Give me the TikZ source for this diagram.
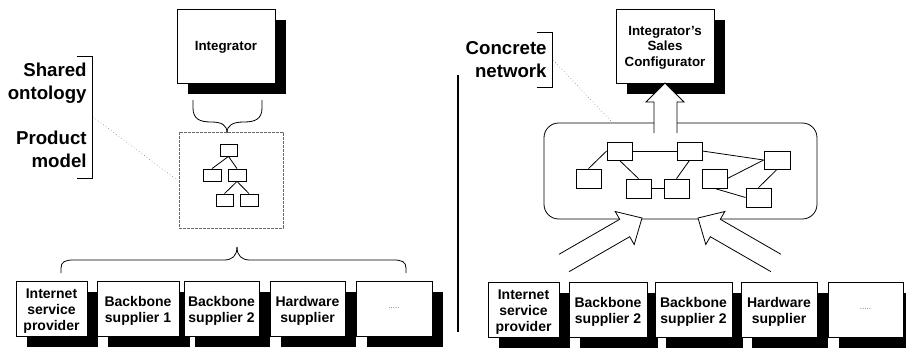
\documentclass[tikz,border=0pt]{standalone}
\usepackage{fontspec}
\setmainfont{Liberation Sans}
\usetikzlibrary{fit,shadows}
\begin{document}
\begin{tikzpicture}[x=0.75pt,y=-0.75pt, line width=0.6pt,
  sbox/.style={draw, fill=white, inner sep=0pt,
    general shadow={fill=black, shadow xshift=8.25pt, shadow yshift=-8.25pt}},
  boxtext/.style={align=center, inner sep=0pt, yshift=-1.8pt, font=\bfseries\fontsize{10.5}{11.8}\selectfont},
  toptext/.style={align=center, inner sep=0pt, yshift=-1.2pt, font=\bfseries\fontsize{10}{11.6}\selectfont},
  mini/.style={draw, fill=white, inner sep=0pt},
  biglabel/.style={align=right, anchor=east, inner sep=0pt, font=\bfseries\fontsize{14}{17.25}\selectfont},
  dots/.style={font=\fontsize{6}{7}\selectfont, text=black!60},
  thin dotted/.style={draw=black!60, dotted, line width=0.4pt}]
\useasboundingbox (0,0) rectangle (906,347);
\clip (0,0) rectangle (906,347);

% ===== Left half =====
\node[sbox, fit={(177,9) (275,83)}] (integ) {};
\node[toptext] (integt) at (integ.center) {Integrator};

% brace under integrator
\draw (193,100) -- (193,108) .. controls (193,119) and (200,122) .. (211,122)
      .. controls (222,122) and (227,125) .. (227,133);
\draw (262,100) -- (262,108) .. controls (262,119) and (255,122) .. (244,122)
      .. controls (233,122) and (227,125) .. (227,133);

% dashed product model box
\node[draw=black!60, dashed, dash pattern=on 2pt off 1pt, line width=0.4pt, inner sep=0pt, fit={(179,132) (283,228)}] (pm) {};
\node[mini, fit={(220,144) (237,156)}] (t0) {};
\node[mini, fit={(203,169) (221,181)}] (t1) {};
\node[mini, fit={(228,169) (246,181)}] (t2) {};
\node[mini, fit={(216,194) (233,206)}] (t3) {};
\node[mini, fit={(240,194) (258,206)}] (t4) {};
\draw (t0.south) -- (t1.north);
\draw (t0.south) -- (t2.north);
\draw (t2.south) -- (t3.north);
\draw (t2.south) -- (t4.north);

% labels
\node[biglabel] (shared) at (87,83.5) {Shared\\ontology};
\node[biglabel] (prod) at (87,149.5) {Product\\model};
\draw (77,56) -- (92,56) -- (92,178) -- (77,178);
\coordinate (lbm) at (93,117);
\coordinate (pmc) at (177,180);
\draw[thin dotted] (lbm) -- (pmc);

% bottom brace
\draw (61,273) -- (61,268) .. controls (61,262) and (65,260) .. (73,260)
      -- (224,260) .. controls (232,260) and (237,256) .. (237,247);
\draw (406,273) -- (406,268) .. controls (406,262) and (402,260) .. (394,260)
      -- (250,260) .. controls (242,260) and (237,256) .. (237,247);

% bottom boxes left
\node[sbox, fit={(16,281) (87,336)}] (l1) {};
\node[boxtext] at (l1.center) {Internet\\service\\provider};
\node[sbox, fit={(97,281) (179,336)}] (l2) {};
\node[boxtext] at (l2.center) {Backbone\\supplier 1};
\node[sbox, fit={(184,281) (259,336)}] (l3) {};
\node[boxtext] at (l3.center) {Backbone\\supplier 2};
\node[sbox, fit={(270,281) (345,336)}] (l4) {};
\node[boxtext] at (l4.center) {Hardware\\supplier};
\node[sbox, fit={(356,281) (432,336)}] (l5) {};
\node[dots] at (l5.center) {.....};

% divider
\draw[line width=1.6pt] (458,75) -- (458,332);

% ===== Right half =====
\node[sbox, fit={(616,9) (714,83)}] (isc) {};
\node[toptext] at (isc.center) {Integrator's\\Sales\\Configurator};

\node[biglabel] (cn) at (547,59.5) {Concrete\\network};
\draw (537,32) -- (552,32) -- (552,87) -- (537,87);

\node[draw, rounded corners=11pt, inner sep=0pt, fit={(544,123) (817,219)}] (net) {};
\coordinate (rbm) at (553,60);
\coordinate (netc) at (612,122);
\draw[thin dotted] (rbm) -- (netc);

% big up arrow
\fill[white] (654,133) -- (654,102) -- (646,102) -- (665,83) -- (684,102) -- (677,102) -- (677,133) -- cycle;
\draw[line join=miter] (654,133) -- (654,102) -- (646,102) -- (665,83) -- (684,102) -- (677,102) -- (677,133);

% network nodes
\node[mini, fit={(607,142) (632,160)}] (A) {};
\node[mini, fit={(677,142) (702,160)}] (B) {};
\node[mini, fit={(576,169) (601,188)}] (C) {};
\node[mini, fit={(626,179) (651,198)}] (D) {};
\node[mini, fit={(664,179) (689,198)}] (E) {};
\node[mini, fit={(702,169) (727,188)}] (F) {};
\node[mini, fit={(764,151) (790,169)}] (G) {};
\node[mini, fit={(746,188) (771,207)}] (H) {};
\draw (A.east) -- (B.west);
\draw (C.north) -- (A.west);
\draw (A.south) -- (D.north);
\draw (D.east) -- (E.west);
\draw (E.north) -- (B.south);
\draw (B.east) -- (G.west);
\draw (F.east) -- (G.west);
\draw (F.south) -- (H.west);
\draw (G.south) -- (H.north);

% hollow arrows into the network
\fill[white] (559,254.3) -- (619.7,219.3) -- (615.2,211.5) -- (642,218) -- (634.2,244.5) -- (629.7,236.7) -- (569,271.7) -- cycle;
\draw[line join=miter] (559,254.3) -- (619.7,219.3) -- (615.2,211.5) -- (642,218) -- (634.2,244.5) -- (629.7,236.7) -- (569,271.7);
\fill[white] (781,254.3) -- (720.3,219.3) -- (724.8,211.5) -- (698,218) -- (705.8,244.5) -- (710.3,236.7) -- (771,271.7) -- cycle;
\draw[line join=miter] (781,254.3) -- (720.3,219.3) -- (724.8,211.5) -- (698,218) -- (705.8,244.5) -- (710.3,236.7) -- (771,271.7);

% bottom boxes right
\node[sbox, fit={(488,282) (559,337)}] (r1) {};
\node[boxtext] at (r1.center) {Internet\\service\\provider};
\node[sbox, fit={(569,282) (647,337)}] (r2) {};
\node[boxtext] at (r2.center) {Backbone\\supplier 2};
\node[sbox, fit={(655,282) (732,337)}] (r3) {};
\node[boxtext] at (r3.center) {Backbone\\supplier 2};
\node[sbox, fit={(741,282) (817,337)}] (r4) {};
\node[boxtext] at (r4.center) {Hardware\\supplier};
\node[sbox, fit={(828,282) (903,337)}] (r5) {};
\node[dots] at (r5.center) {.....};
\end{tikzpicture}
\end{document}
